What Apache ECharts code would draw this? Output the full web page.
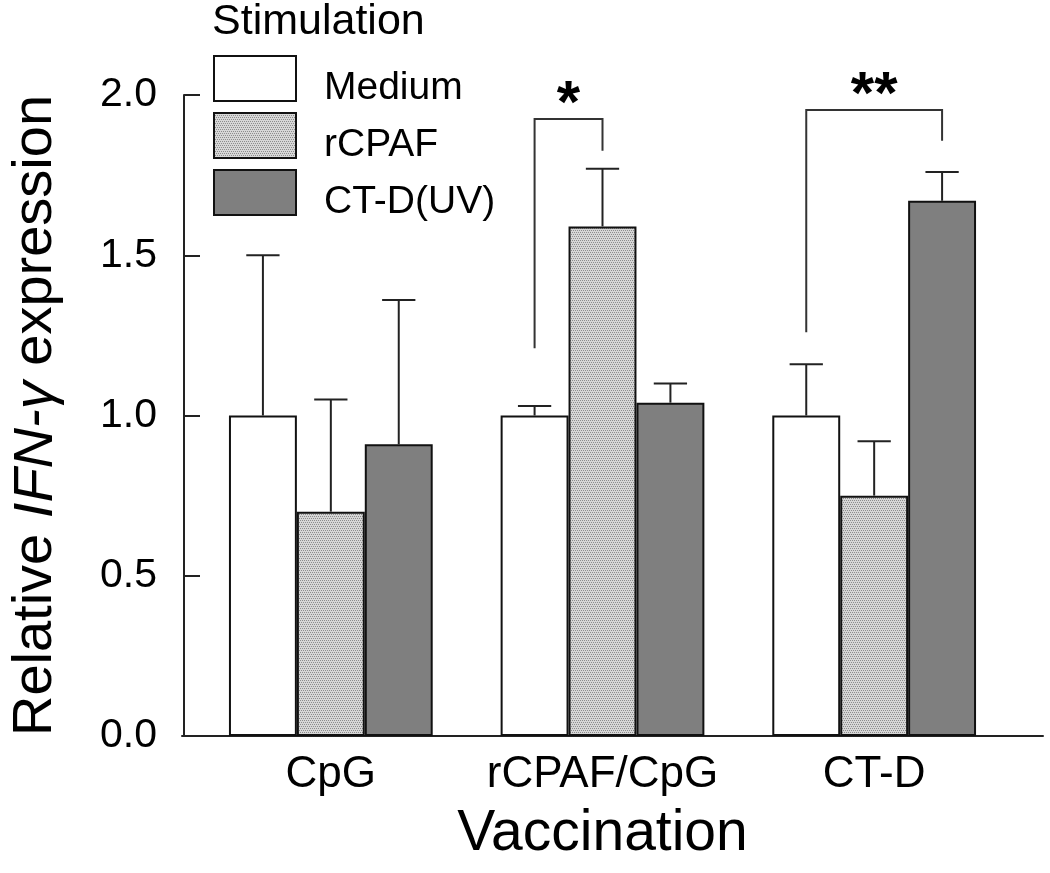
<!DOCTYPE html>
<html>
<head>
<meta charset="utf-8">
<script src="https://cdn.jsdelivr.net/npm/echarts@6.0.0/dist/echarts.min.js"></script>
<style>
html,body{margin:0;padding:0;background:#fff;}
#chart{width:1050px;height:873px;}
</style>
</head>
<body>
<div id="chart"></div>
<script>
// ---- data ----
const categories = ['CpG', 'rCPAF/CpG', 'CT-D'];
const seriesNames = ['Medium', 'rCPAF', 'CT-D(UV)'];
const mediumValues = [1.00, 1.00, 1.00];
const rcpafValues = [0.70, 1.59, 0.75];
const ctdValues = [0.91, 1.04, 1.67];
const mediumErr = [0.50, 0.03, 0.16];
const rcpafErr = [0.35, 0.18, 0.17];
const ctdErr = [0.45, 0.06, 0.09];
const yTickLabels = ['0.0', '0.5', '1.0', '1.5', '2.0'];
// brackets: [category index, left series, right series, left foot, top, right foot, label]
const bracket1 = [1, 0, 1, 1.21, 1.925, 1.826, '*'];
const bracket2 = [2, 0, 2, 1.26, 1.953, 1.857, '**'];

// ---- styles ----
const FONT = 'Liberation Sans, Arial, Helvetica, sans-serif';
const pat = document.createElement('canvas');
pat.width = 4; pat.height = 4;
(function () {
  const c = pat.getContext('2d');
  c.fillStyle = '#d6d6d6'; c.fillRect(0, 0, 4, 4);
  c.fillStyle = '#8c8c8c';
  for (let i = 0; i < 4; i++) c.fillRect(i, (i * 2) % 4, 1, 1);
})();
const fills = ['#ffffff', {image: pat, repeat: 'repeat'}, '#7f7f7f'];
const valueSets = [mediumValues, rcpafValues, ctdValues];
const errSets = [mediumErr, rcpafErr, ctdErr];

const chart = echarts.init(document.getElementById('chart'), null, {renderer: 'canvas'});

const barSeries = seriesNames.map((name, k) => ({
  name: name,
  type: 'bar',
  xAxisIndex: 0, yAxisIndex: 0,
  data: valueSets[k],
  barGap: '0%',
  barCategoryGap: '25%',
  itemStyle: {color: fills[k], borderColor: '#111', borderWidth: 2},
  emphasis: {disabled: true},
  z: 2
}));

// error bars (upper only)
const errData = [];
for (let k = 0; k < 3; k++) {
  for (let i = 0; i < categories.length; i++) {
    errData.push([i, valueSets[k][i], valueSets[k][i] + errSets[k][i], k]);
  }
}
const errSeries = {
  type: 'custom',
  name: 'err',
  xAxisIndex: 0, yAxisIndex: 0,
  data: errData,
  z: 5,
  silent: true,
  renderItem: function (params, api) {
    const band = api.size([1, 0])[0];
    const bw = band * 0.25;
    const k = api.value(3);
    const base = api.coord([api.value(0), api.value(1)]);
    const top = api.coord([api.value(0), api.value(2)]);
    const x = base[0] + (k - 1) * bw;
    const half = bw * 0.245;
    const st = {stroke: '#222', lineWidth: 2};
    return {
      type: 'group',
      children: [
        {type: 'line', shape: {x1: x, y1: base[1], x2: x, y2: top[1]}, style: st},
        {type: 'line', shape: {x1: x - half, y1: top[1], x2: x + half, y2: top[1]}, style: st}
      ]
    };
  }
};

const bracketSeries = {
  type: 'custom',
  name: 'sig',
  xAxisIndex: 0, yAxisIndex: 0,
  data: [bracket1, bracket2],
  z: 6,
  silent: true,
  renderItem: function (params, api) {
    const band = api.size([1, 0])[0];
    const bw = band * 0.25;
    const i = api.value(0);
    const c = api.coord([i, 0]);
    const xl = c[0] + (api.value(1) - 1) * bw;
    const xr = c[0] + (api.value(2) - 1) * bw;
    const yl = api.coord([i, api.value(3)])[1];
    const yt = api.coord([i, api.value(4)])[1];
    const yr = api.coord([i, api.value(5)])[1];
    const st = {stroke: '#333', lineWidth: 2, fill: null};
    return {
      type: 'group',
      children: [
        {type: 'polyline', shape: {points: [[xl, yl], [xl, yt], [xr, yt], [xr, yr]]}, style: st},
        {type: 'text', x: (xl + xr) / 2, y: yt - 14,
          style: {text: api.value(6), fill: '#000', font: 'bold 60px ' + FONT, align: 'center', verticalAlign: 'middle'}}
      ]
    };
  }
};

const option = {
  backgroundColor: '#fff',
  animation: false,
  title: {
    text: 'Stimulation', left: 212, top: 1, padding: 0,
    textStyle: {fontFamily: FONT, fontSize: 43, fontWeight: 'normal', color: '#000'}
  },
  legend: {
    data: seriesNames,
    orient: 'vertical',
    left: 213, top: 55, padding: 0,
    itemWidth: 82, itemHeight: 45, itemGap: 4,
    selectedMode: false,
    icon: 'rect',
    formatter: function (name) { return '{t|' + name + '}'; },
    textStyle: {
      fontFamily: FONT, fontSize: 39, color: '#000',
      rich: {t: {fontFamily: FONT, fontSize: 39, color: '#000', padding: [20, 0, 0, 23]}}
    }
  },
  grid: [
    {left: 193, width: 817, top: 95, bottom: 137, containLabel: false},
    {left: 182, right: 7, top: 95, bottom: 137, containLabel: false}
  ],
  xAxis: [
    {
      type: 'category', gridIndex: 0, data: categories,
      axisLine: {show: false}, axisTick: {show: false},
      axisLabel: {fontFamily: FONT, fontSize: 44, color: '#000', margin: 17, interval: 0},
      name: 'Vaccination', nameLocation: 'middle', nameGap: 70,
      nameTextStyle: {fontFamily: FONT, fontSize: 57, color: '#000'}
    },
    {
      type: 'value', gridIndex: 1, min: 0, max: 1,
      axisLine: {show: true, onZero: false, lineStyle: {color: '#222', width: 2}},
      axisTick: {show: false}, axisLabel: {show: false}, splitLine: {show: false}
    }
  ],
  yAxis: [
    {
      type: 'value', gridIndex: 0, min: 0, max: 2, interval: 0.5, offset: 11,
      axisLine: {show: true, lineStyle: {color: '#222', width: 2}},
      axisTick: {show: true, inside: true, length: 16, lineStyle: {color: '#222', width: 2}},
      axisLabel: {
        fontFamily: FONT, fontSize: 41, color: '#000', margin: 27,
        formatter: function (v) { return yTickLabels[Math.round(v / 0.5)]; }
      },
      splitLine: {show: false},
      name: '{n|Relative }{i|IFN-γ}{n| expression}',
      nameLocation: 'middle', nameRotate: 90, nameGap: 120,
      nameTextStyle: {
        rich: {
          n: {fontFamily: FONT, fontSize: 56, color: '#000'},
          i: {fontFamily: FONT, fontSize: 56, color: '#000', fontStyle: 'italic'}
        }
      }
    },
    {type: 'value', gridIndex: 1, show: false, min: 0, max: 1}
  ],
  series: barSeries.concat([errSeries, bracketSeries])
};
chart.setOption(option);
</script>
</body>
</html>
